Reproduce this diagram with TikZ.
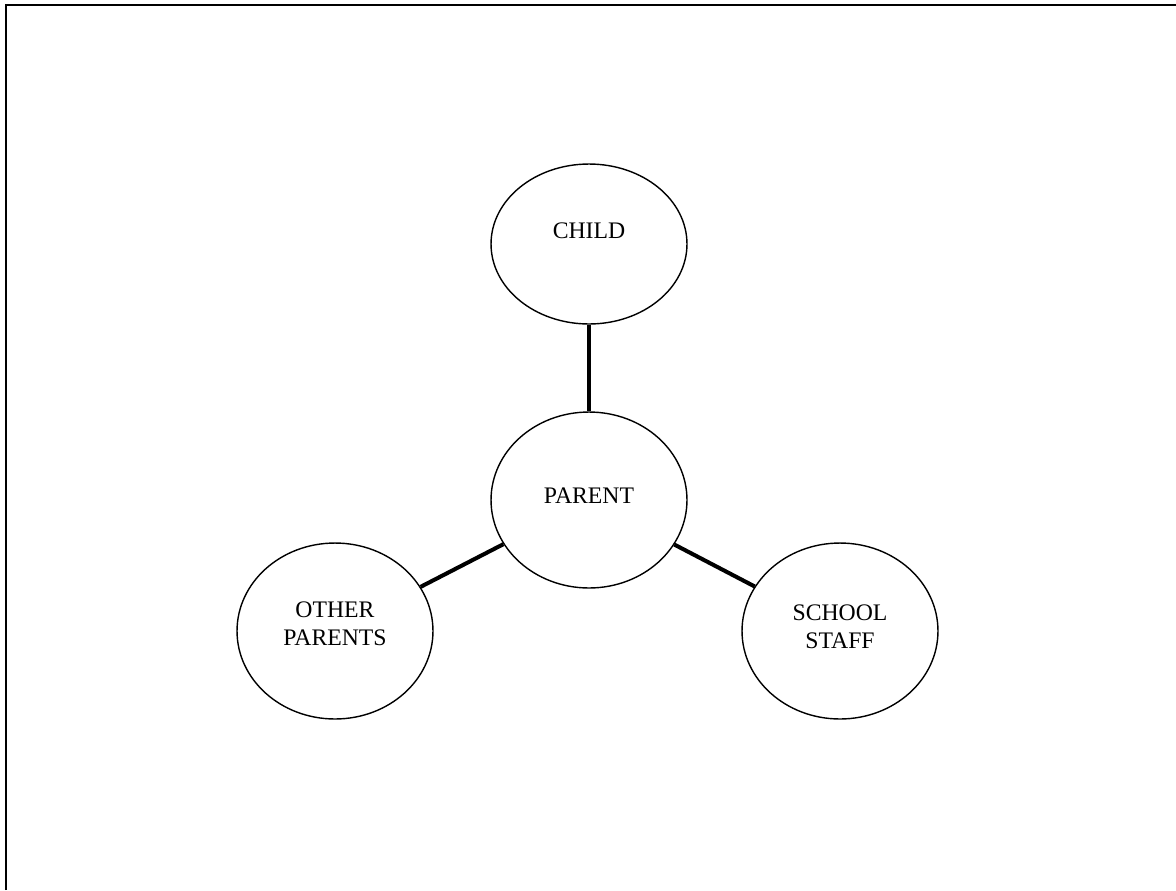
\documentclass[tikz,border=0pt]{standalone}
\usepackage{fontspec}
\setmainfont{Liberation Serif}
\usepackage{tikz}
\usetikzlibrary{%
  shapes.geometric,%
  positioning%
}

\begin{document}
\begin{tikzpicture}[x=0.02cm, y=-0.02cm,
  every node/.style={font=\fontsize{13.5}{15.9}\selectfont, align=center},
  bubble/.style={draw, ellipse, line width=0.8pt, inner sep=0pt,
    minimum width=3.92cm, minimum height=3.52cm},
  link/.style={line width=2.3pt}]
\useasboundingbox (0,0) rectangle (1176,890);
\draw[line width=1.2pt] (6,890) -- (6,5) -- (1176,5);

\node[bubble, minimum height=3.2cm, text depth=14.7pt] (child) at (589,244) {CHILD};
\node[bubble, text depth=4.5pt] (parent) at (589,500) {PARENT};
\node[bubble, text depth=7.9pt] (others) at (335,631) {OTHER\\PARENTS};
\node[bubble, text depth=4.5pt] (staff) at (840,631) {SCHOOL\\STAFF};

\draw
	(child) edge[link] (parent)
	(parent) edge[link] (others)
	(parent) edge[link] (staff)
;
\end{tikzpicture}
\end{document}
